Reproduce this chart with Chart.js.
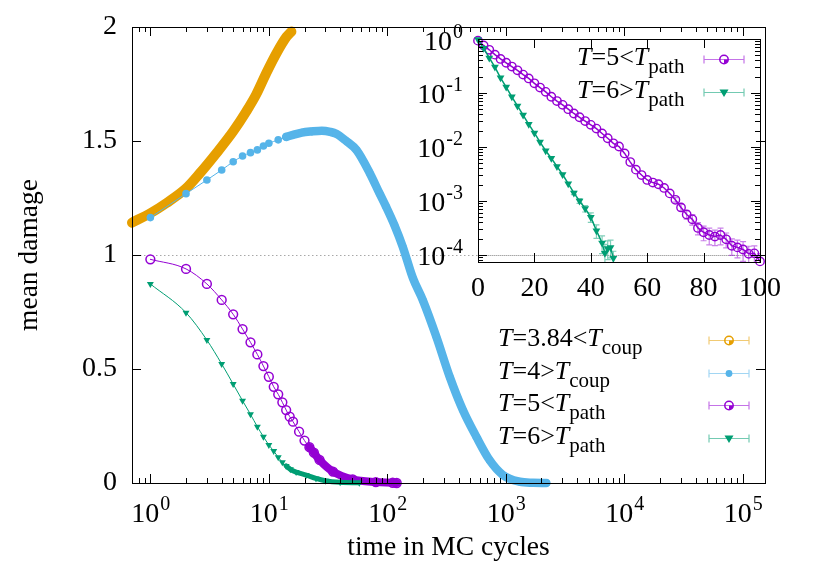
<!DOCTYPE html>
<html>
<head>
<meta charset="utf-8">
<title>mean damage</title>
<script src="https://cdn.jsdelivr.net/npm/chart.js@4.4.0/dist/chart.umd.min.js"></script>
<style>
  body { margin: 0; background: #fff; }
  #wrap { position: relative; width: 814px; height: 570px; font-family: 'Liberation Serif', 'Times New Roman', serif; }
  #mainChart { position: absolute; left: 0; top: 0; }
  #insetChart { position: absolute; left: 400px; top: 0; }
  .key { position: absolute; font-size: 26px; color: #000; white-space: nowrap; }
  .key div { height: 32.5px; line-height: 32.5px; }
  .key .sub { font-size: 21px; position: relative; top: 8px; }
</style>
</head>
<body>
<div id="wrap">
  <canvas id="mainChart" width="814" height="570"></canvas>
  <canvas id="insetChart" width="414" height="320"></canvas>
  <div class="key" id="mainKey" style="left:498px; top:322px;"></div>
  <div class="key" id="insetKey" style="left:577px; top:41px;"></div>
</div>
<script>
'use strict';

// ***** DATA *****
const keyTemps = ['3.84', '4', '5', '6'];
const keyRelations = ['<', '>', '<', '>'];
const keySubs = ['coup', 'coup', 'path', 'path'];

const timeOrange = [0.70, 1.0, 1.36, 2.01, 2.61, 3.6, 4.98, 6.46, 7.84, 9.5, 11.6, 14.1, 15.5];
const damageOrange = [1.142, 1.183, 1.227, 1.293, 1.358, 1.446, 1.541, 1.63, 1.705, 1.797, 1.885, 1.957, 1.98];

const timeBlue = [1, 2, 3, 4, 5, 6, 7, 8, 9, 10, 12, 14, 16, 19, 23, 28, 33, 37, 45, 55, 71, 86, 98, 115, 135, 164, 200, 259, 336, 434, 564, 730, 946, 1307, 1700, 2200];
const damageBlue = [1.164, 1.269, 1.329, 1.373, 1.409, 1.434, 1.449, 1.461, 1.478, 1.49, 1.505, 1.518, 1.527, 1.537, 1.542, 1.545, 1.54, 1.532, 1.5, 1.46, 1.36, 1.27, 1.21, 1.13, 1.036, 0.9, 0.80, 0.642, 0.466, 0.32, 0.203, 0.10, 0.035, 0.006, 0.001, 0.0];

const timePurple = [1, 2, 3, 4, 5, 6, 7, 8, 9, 10, 11, 12, 13, 14, 15, 16, 18, 20, 22, 24, 26.8, 34.8, 51, 80, 111, 120];
const damagePurple = [0.981, 0.939, 0.873, 0.803, 0.740, 0.675, 0.617, 0.564, 0.513, 0.466, 0.422, 0.389, 0.354, 0.320, 0.291, 0.269, 0.225, 0.186, 0.157, 0.133, 0.101, 0.05, 0.016, 0.004, 0.001, 0.0];

const timeGreen = [1, 2, 3, 4, 5, 6, 7, 8, 9, 10, 11, 12, 13, 14, 15.2, 17, 20.7, 25, 30, 40, 58];
const damageGreen = [0.873, 0.747, 0.627, 0.522, 0.434, 0.361, 0.301, 0.247, 0.203, 0.167, 0.140, 0.113, 0.091, 0.075, 0.060, 0.048, 0.035, 0.02, 0.010, 0.003, 0.001];

// inset: T=5 and T=6 on a log scale, with error bars where they are visible
const insetTimePurple = [0, 2, 4, 6, 8, 10, 12, 14, 16, 18, 20, 22, 24, 26, 28, 30, 32, 34, 36, 38, 40, 42, 44, 46, 48, 50, 52, 54, 56, 58, 60, 62, 64, 66, 68, 70, 72, 74, 76, 78, 80, 82, 84, 86, 88, 90, 92, 94, 96, 98, 100];
const insetPurple = [0.933, 0.759, 0.631, 0.513, 0.427, 0.363, 0.309, 0.263, 0.219, 0.186, 0.151, 0.126, 0.105, 0.0851, 0.0708, 0.0603, 0.0501, 0.0417, 0.0355, 0.0302, 0.0257, 0.0219, 0.0178, 0.0145, 0.0117, 0.0102, 0.00759, 0.00525, 0.0038, 0.00302, 0.00245, 0.00219, 0.00204, 0.00174, 0.00138, 0.00105, 0.000759, 0.000562, 0.000457, 0.000316, 0.000263, 0.000234, 0.000219, 0.000234, 0.000195, 0.000148, 0.000138, 0.000126, 0.000105, 0.000107, 0.0000759];
const insetPurpleErr = [0, 0, 0, 0, 0, 0, 0, 0, 0, 0, 0, 0, 0, 0, 0, 0, 0, 0, 0, 0, 0, 0, 0, 0, 0, 0, 0, 0, 0, 0, 0, 0, 0, 0, 0, 0.0001, 0.0001, 0.0001, 0.0001, 0.00008, 0.00008, 0.00008, 0.00007, 0.00008, 0.00006, 0.00005, 0.00005, 0.00005, 0.00004, 0.00004, 0.00003];
const insetTimeGreen = [0, 2, 4, 6, 8, 10, 12, 14, 16, 18, 20, 22, 24, 26, 28, 30, 32, 34, 36, 38, 40, 42, 44, 45, 46, 47, 48];
const insetGreen = [0.977, 0.676, 0.447, 0.302, 0.191, 0.129, 0.0851, 0.0575, 0.0389, 0.0263, 0.0182, 0.0123, 0.00851, 0.00617, 0.00437, 0.00309, 0.00209, 0.00141, 0.001, 0.000724, 0.000501, 0.000282, 0.000166, 0.000107, 0.000132, 0.000138, 0.0000871];
const insetGreenErr = [0, 0, 0, 0, 0, 0, 0, 0, 0, 0, 0, 0, 0, 0, 0, 0, 0, 0.0001, 0.0001, 0.0001, 0.0001, 0.00008, 0.00006, 0.00005, 0.00005, 0.00005, 0.00003];

// ticks
const mainYTicks = [0, 0.5, 1, 1.5, 2];
const mainXPowers = [0, 1, 2, 3, 4, 5];
const insetXTicks = [0, 20, 40, 60, 80, 100];
const insetYPowers = [0, -1, -2, -3, -4];

// ***** STYLE *****
const ORANGE = '#e69f00';
const BLUE = '#56b4e9';
const PURPLE = '#9400d3';
const GREEN = '#009e73';
const FONT = "'Liberation Serif', 'Times New Roman', serif";

// ***** HELPERS *****
function pairs(xs, ys){
  return xs.map((x, i) => ({x: x, y: ys[i]}));
}

function crisp(v){
  return Math.round(v) + 0.5;
}

function bandFrom(start, width){
  return ctx => (ctx.p0.parsed.x >= start ? width : 1);
}

function logTicks(min, max){
  let major = [];
  let minor = [];
  for(let e = Math.floor(Math.log10(min)); e <= Math.ceil(Math.log10(max)); e++){
    for(let m = 1; m <= 9; m++){
      let v = m * Math.pow(10, e);
      if(v < min * 0.999 || v > max * 1.001) continue;
      if(m === 1) major.push(v); else minor.push(v);
    }
  }
  return {major, minor};
}

function drawPower(ctx, exp, x, baseline, align){
  ctx.font = '28px ' + FONT;
  let bw = ctx.measureText('10').width;
  ctx.font = '20px ' + FONT;
  let ew = ctx.measureText(String(exp)).width;
  let left = align === 'center' ? x - (bw + ew) / 2 : x - bw - ew;
  ctx.textAlign = 'left';
  ctx.textBaseline = 'alphabetic';
  ctx.fillStyle = '#000';
  ctx.font = '28px ' + FONT;
  ctx.fillText('10', left, baseline);
  ctx.font = '20px ' + FONT;
  ctx.fillText(String(exp), left + bw + 1, baseline - 12);
}

function drawMarker(ctx, style, x, y, color){
  ctx.save();
  ctx.strokeStyle = color;
  ctx.fillStyle = color;
  ctx.lineWidth = 1.5;
  if(style === 'ring'){
    ctx.beginPath();
    ctx.arc(x, y, 4.2, 0, Math.PI * 2);
    ctx.stroke();
    ctx.beginPath();
    ctx.moveTo(x, y);
    ctx.arc(x, y, 4.2, 0, Math.PI / 2);
    ctx.closePath();
    ctx.fill();
  } else if(style === 'dot'){
    ctx.beginPath();
    ctx.arc(x, y, 3.4, 0, Math.PI * 2);
    ctx.fill();
  } else {
    ctx.beginPath();
    ctx.moveTo(x - 4.5, y - 3);
    ctx.lineTo(x + 4.5, y - 3);
    ctx.lineTo(x, y + 4.5);
    ctx.closePath();
    ctx.fill();
  }
  ctx.restore();
}

function buildKey(id, rows){
  let box = document.getElementById(id);
  rows.forEach(i => {
    let row = document.createElement('div');
    row.innerHTML = '<i>T</i>=' + keyTemps[i] + (keyRelations[i] === '<' ? '&lt;' : '&gt;') +
      '<i>T</i><span class="sub">' + keySubs[i] + '</span>';
    box.appendChild(row);
  });
}

// ***** PLUGIN: gnuplot style frame, inward ticks, error bars, key glyphs *****
const gnuFrame = {
  id: 'gnuFrame',
  beforeDatasetsDraw(chart, args, opts){
    const {ctx, chartArea: a, scales} = chart;
    let py = crisp(scales.y.getPixelForValue(opts.refY));
    ctx.save();
    ctx.strokeStyle = '#a8a8a8';
    ctx.lineWidth = 1;
    ctx.setLineDash([1.5, 2.5]);
    ctx.beginPath();
    ctx.moveTo(a.left, py);
    ctx.lineTo(a.right, py);
    ctx.stroke();
    ctx.setLineDash([]);

    // error bars, taken from dataset.errors
    ctx.beginPath();
    ctx.rect(a.left, a.top, a.right - a.left, a.bottom - a.top);
    ctx.clip();
    chart.data.datasets.forEach(ds => {
      if(!ds.errors) return;
      ctx.strokeStyle = ds.borderColor;
      ctx.globalAlpha = 0.5;
      ctx.lineWidth = 1.2;
      ctx.beginPath();
      ds.data.forEach((p, i) => {
        let e = ds.errors[i];
        if(!e) return;
        let px = scales.x.getPixelForValue(p.x);
        let lo = Math.max(p.y - e, 1e-9);
        let y1 = scales.y.getPixelForValue(p.y + e);
        let y2 = scales.y.getPixelForValue(lo);
        ctx.moveTo(px, y1); ctx.lineTo(px, y2);
        ctx.moveTo(px - 3, y1); ctx.lineTo(px + 3, y1);
        ctx.moveTo(px - 3, y2); ctx.lineTo(px + 3, y2);
      });
      ctx.stroke();
    });
    ctx.restore();
  },
  afterDraw(chart, args, opts){
    const {ctx, chartArea: a, scales} = chart;
    ctx.save();
    ctx.strokeStyle = '#000';
    ctx.lineWidth = 1;
    ctx.beginPath();
    opts.xTicks.forEach(t => {
      let px = crisp(scales.x.getPixelForValue(t.v));
      ctx.moveTo(px, a.bottom); ctx.lineTo(px, a.bottom - t.len);
      ctx.moveTo(px, a.top); ctx.lineTo(px, a.top + t.len);
    });
    opts.yTicks.forEach(t => {
      let py = crisp(scales.y.getPixelForValue(t.v));
      ctx.moveTo(a.left, py); ctx.lineTo(a.left + t.len, py);
      ctx.moveTo(a.right, py); ctx.lineTo(a.right - t.len, py);
    });
    ctx.stroke();
    ctx.strokeRect(crisp(a.left), crisp(a.top), Math.round(a.right - a.left), Math.round(a.bottom - a.top));

    if(opts.xPowers){
      opts.xPowers.forEach(e => drawPower(ctx, e, scales.x.getPixelForValue(Math.pow(10, e)), a.bottom + 39, 'center'));
    }
    if(opts.yPowers){
      opts.yPowers.forEach(e => drawPower(ctx, e, a.left - 16, scales.y.getPixelForValue(Math.pow(10, e)) + 10.5, 'right'));
    }

    // key glyphs: error bar with marker, next to each text row
    let rows = document.getElementById(opts.keyId).children;
    let cbox = chart.canvas.getBoundingClientRect();
    let gx = a.right - 36;
    opts.glyphs.forEach((g, i) => {
      let r = rows[i].getBoundingClientRect();
      let gy = crisp(r.top + r.height / 2 - cbox.top + 2);
      ctx.strokeStyle = g.color;
      ctx.globalAlpha = 0.55;
      ctx.lineWidth = 1.2;
      ctx.beginPath();
      ctx.moveTo(gx - 20, gy); ctx.lineTo(gx + 20, gy);
      ctx.moveTo(gx - 20, gy - 4); ctx.lineTo(gx - 20, gy + 4);
      ctx.moveTo(gx + 20, gy - 4); ctx.lineTo(gx + 20, gy + 4);
      ctx.stroke();
      ctx.globalAlpha = 1;
      drawMarker(ctx, g.style, gx, gy, g.color);
    });
    ctx.restore();
  }
};

// ***** BUILD *****
buildKey('mainKey', [0, 1, 2, 3]);
buildKey('insetKey', [2, 3]);

const mainLog = logTicks(0.7, 1.54e5);
const insetLog = logTicks(7.4e-5, 1);

Chart.defaults.font.family = FONT;
Chart.defaults.color = '#000';

const mainChart = new Chart(document.getElementById('mainChart'), {
  type: 'line',
  data: {
    datasets: [{
      label: 'T=3.84<T_coup',
      data: pairs(timeOrange, damageOrange),
      borderColor: ORANGE,
      backgroundColor: ORANGE,
      borderWidth: 10,
      borderCapStyle: 'round',
      borderJoinStyle: 'round',
      cubicInterpolationMode: 'monotone',
      pointRadius: 0,
      clip: 10,
      order: 4
    }, {
      label: 'T=4>T_coup',
      data: pairs(timeBlue, damageBlue),
      borderColor: BLUE,
      backgroundColor: BLUE,
      borderWidth: 1,
      borderCapStyle: 'round',
      borderJoinStyle: 'round',
      segment: {borderWidth: bandFrom(14, 8.5)},
      cubicInterpolationMode: 'monotone',
      pointRadius: 3.8,
      pointBorderWidth: 0,
      clip: 10,
      order: 3
    }, {
      label: 'T=5<T_path',
      data: pairs(timePurple, damagePurple),
      borderColor: PURPLE,
      backgroundColor: 'rgba(0,0,0,0)',
      borderWidth: 1,
      borderCapStyle: 'round',
      borderJoinStyle: 'round',
      segment: {borderWidth: bandFrom(22, 8)},
      cubicInterpolationMode: 'monotone',
      pointRadius: 4.4,
      pointBorderWidth: 1.5,
      clip: 10,
      order: 2
    }, {
      label: 'T=6>T_path',
      data: pairs(timeGreen, damageGreen),
      borderColor: GREEN,
      backgroundColor: GREEN,
      borderWidth: 1,
      borderCapStyle: 'round',
      borderJoinStyle: 'round',
      segment: {borderWidth: bandFrom(14, 5)},
      cubicInterpolationMode: 'monotone',
      pointStyle: 'triangle',
      pointRotation: 180,
      pointRadius: 4,
      pointBorderWidth: 0,
      clip: 10,
      order: 1
    }]
  },
  options: {
    responsive: false,
    animation: false,
    layout: {padding: {left: 0, top: 27, right: 49, bottom: 0}},
    plugins: {
      legend: {display: false},
      tooltip: {enabled: false},
      gnuFrame: {
        refY: 1,
        xTicks: mainLog.major.map(v => ({v: v, len: 9})).concat(mainLog.minor.map(v => ({v: v, len: 5}))),
        yTicks: mainYTicks.map(v => ({v: v, len: 9})),
        xPowers: mainXPowers,
        keyId: 'mainKey',
        glyphs: [
          {style: 'ring', color: ORANGE},
          {style: 'dot', color: BLUE},
          {style: 'ring', color: PURPLE},
          {style: 'tri', color: GREEN}
        ]
      }
    },
    scales: {
      x: {
        type: 'logarithmic',
        bounds: 'data',
        min: 0.7,
        max: 1.54e5,
        grid: {display: false},
        border: {display: false},
        ticks: {display: false},
        title: {display: true, text: 'time in MC cycles', font: {size: 27.5, family: FONT}, color: '#000', padding: {top: 0, bottom: 6}},
        afterFit: s => { s.height = 87; s.paddingLeft = 0; s.paddingRight = 0; }
      },
      y: {
        type: 'linear',
        bounds: 'data',
        min: 0,
        max: 2,
        grid: {display: false, drawTicks: false},
        border: {display: false},
        ticks: {font: {size: 28, family: FONT}, color: '#000', padding: 15, callback: v => String(v)},
        afterBuildTicks: s => { s.ticks = mainYTicks.map(v => ({value: v})); },
        title: {display: true, text: 'mean damage', font: {size: 27.5, family: FONT}, color: '#000', padding: {top: 13, bottom: 0}},
        afterFit: s => { s.width = 132; s.paddingTop = 0; s.paddingBottom = 0; }
      }
    }
  },
  plugins: [gnuFrame]
});

const insetChart = new Chart(document.getElementById('insetChart'), {
  type: 'line',
  data: {
    datasets: [{
      label: 'T=5<T_path',
      data: pairs(insetTimePurple, insetPurple),
      errors: insetPurpleErr,
      borderColor: PURPLE,
      backgroundColor: 'rgba(0,0,0,0)',
      borderWidth: 1.5,
      pointRadius: 4.2,
      pointBorderWidth: 1.4,
      clip: 6,
      order: 2
    }, {
      label: 'T=6>T_path',
      data: pairs(insetTimeGreen, insetGreen),
      errors: insetGreenErr,
      borderColor: GREEN,
      backgroundColor: GREEN,
      borderWidth: 1.5,
      pointStyle: 'triangle',
      pointRotation: 180,
      pointRadius: 4.5,
      pointBorderWidth: 0,
      clip: 6,
      order: 1
    }]
  },
  options: {
    responsive: false,
    animation: false,
    layout: {padding: {left: 0, top: 39, right: 54, bottom: 0}},
    plugins: {
      legend: {display: false},
      tooltip: {enabled: false},
      gnuFrame: {
        refY: 1e-4,
        xTicks: insetXTicks.map(v => ({v: v, len: 9})),
        yTicks: insetLog.major.map(v => ({v: v, len: 9})).concat(insetLog.minor.map(v => ({v: v, len: 5}))),
        yPowers: insetYPowers,
        keyId: 'insetKey',
        glyphs: [
          {style: 'ring', color: PURPLE},
          {style: 'tri', color: GREEN}
        ]
      }
    },
    scales: {
      x: {
        type: 'linear',
        bounds: 'data',
        min: 0,
        max: 100,
        grid: {display: false, drawTicks: false},
        border: {display: false},
        ticks: {font: {size: 28, family: FONT}, color: '#000', padding: 10, maxRotation: 0, autoSkip: false},
        afterBuildTicks: s => { s.ticks = insetXTicks.map(v => ({value: v})); },
        afterFit: s => { s.height = 58; s.paddingLeft = 0; s.paddingRight = 0; }
      },
      y: {
        type: 'logarithmic',
        bounds: 'data',
        min: 7.4e-5,
        max: 1,
        grid: {display: false},
        border: {display: false},
        ticks: {display: false},
        afterFit: s => { s.width = 78; s.paddingTop = 0; s.paddingBottom = 0; }
      }
    }
  },
  plugins: [gnuFrame]
});
</script>
</body>
</html>
